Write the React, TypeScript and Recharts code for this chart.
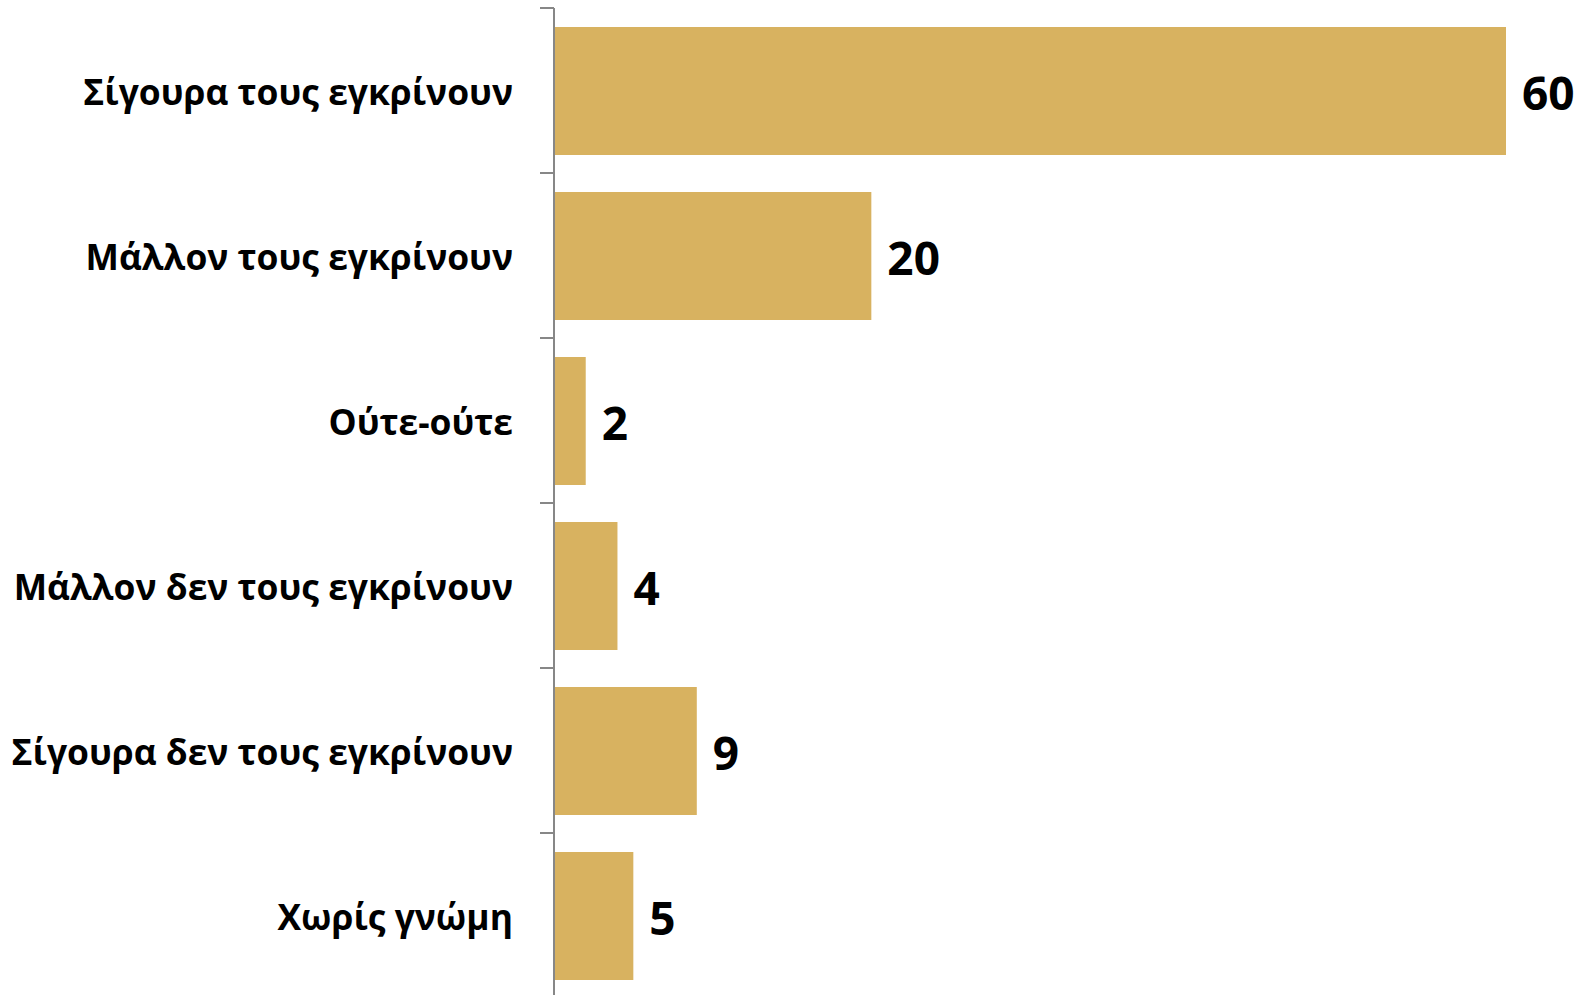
import { BarChart, Bar, XAxis, YAxis, LabelList } from "recharts";

const categories = [
  "Σίγουρα τους εγκρίνουν",
  "Μάλλον τους εγκρίνουν",
  "Ούτε-ούτε",
  "Μάλλον δεν τους εγκρίνουν",
  "Σίγουρα δεν τους εγκρίνουν",
  "Χωρίς γνώμη",
];
const values = [60, 20, 2, 4, 9, 5];

const BAR_COLOR = "#D8B260";
const AXIS_GRAY = "#878787";
const FONT = "'Open Sans', 'Noto Sans', sans-serif";
const LABEL_GAP = 41;
const TICK_LEN = 14;

const data = categories.map((name, i) => ({ name, value: values[i] }));

// label plus a boundary tick mark above each band (excel-style ticks between categories)
function CategoryTick(props: any) {
  const { x, y, payload } = props;
  const half = payload.offset ?? 0;
  const axisX = x + LABEL_GAP;
  return (
    <g>
      <line
        x1={axisX - TICK_LEN}
        x2={axisX}
        y1={y - half}
        y2={y - half}
        stroke={AXIS_GRAY}
        strokeWidth={2}
      />
      <line
        x1={axisX - TICK_LEN}
        x2={axisX}
        y1={y + half}
        y2={y + half}
        stroke={AXIS_GRAY}
        strokeWidth={2}
      />
      <text
        x={x}
        y={y}
        textAnchor="end"
        dominantBaseline="central"
        fontFamily={FONT}
        fontWeight={700}
        fontSize={35.4}
        fill="#000"
      >
        {payload.value}
      </text>
    </g>
  );
}

export default function App() {
  return (
    <div style={{ position: "fixed", left: 0, top: 0, background: "#fff" }}>
      <BarChart
        width={1588}
        height={1000}
        data={data}
        layout="vertical"
        margin={{ top: 8, right: 82, bottom: 2, left: 0 }}
        barSize={128}
      >
        <XAxis type="number" domain={[0, 60]} hide />
        <YAxis
          type="category"
          dataKey="name"
          width={554}
          axisLine={{ stroke: AXIS_GRAY, strokeWidth: 2 }}
          tickLine={false}
          tickSize={0}
          tickMargin={LABEL_GAP}
          tick={<CategoryTick />}
          interval={0}
        />
        <Bar dataKey="value" fill={BAR_COLOR} isAnimationActive={false}>
          <LabelList
            dataKey="value"
            position="right"
            offset={16}
            dy={3}
            fill="#000"
            fontFamily={FONT}
            fontWeight={700}
            fontSize={46}
          />
        </Bar>
      </BarChart>
    </div>
  );
}
